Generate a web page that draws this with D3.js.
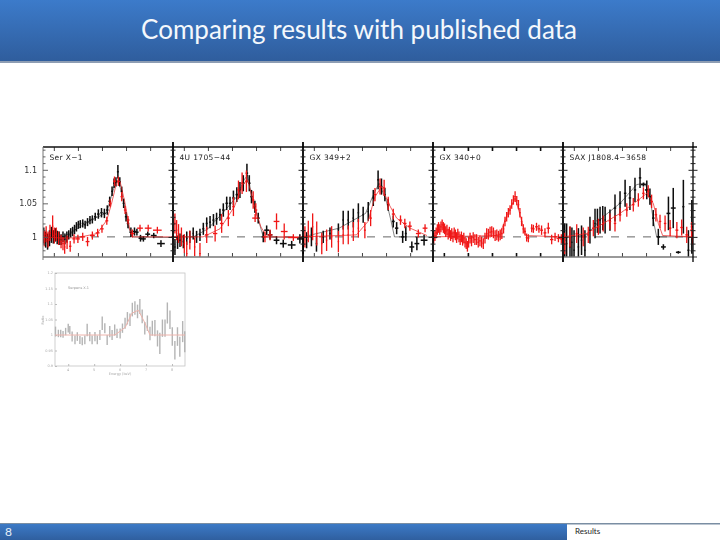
<!DOCTYPE html>
<html>
<head>
<meta charset="utf-8">
<script src="https://cdnjs.cloudflare.com/ajax/libs/d3/7.8.5/d3.min.js"></script>
<style>
html, body { margin: 0; padding: 0; background: #fff; }
svg { display: block; }
</style>
</head>
<body>
<svg id="slide" width="720" height="540"></svg>
<script>
// Each point is [energy keV, ratio, energy half width, ratio half height]
const serBlack = [[3.58,1.002,.03,.012],[3.66,.996,.03,.012],[3.74,.993,.03,.012],[3.82,.998,.03,.012],[3.9,1.003,.03,.012],[3.98,1,.03,.01],[4.06,1.003,.03,.01],[4.14,.999,.03,.01],[4.22,.998,.03,.01],[4.3,.996,.03,.008],[4.38,1,.03,.008],[4.46,.997,.03,.008],[4.54,1,.03,.008],[4.62,1.003,.03,.007],[4.7,1.006,.03,.007],[4.78,1.008,.03,.007],[4.86,1.011,.03,.007],[4.94,1.015,.03,.007],[5.02,1.018,.03,.006],[5.1,1.019,.03,.006],[5.2,1.02,.04,.006],[5.3,1.018,.04,.006],[5.4,1.022,.04,.006],[5.5,1.025,.04,.006],[5.6,1.026,.04,.006],[5.72,1.03,.05,.006],[5.85,1.034,.05,.007],[5.98,1.036,.05,.007],[6.1,1.035,.05,.007],[6.22,1.04,.05,.007],[6.32,1.053,.05,.007],[6.42,1.068,.04,.007],[6.5,1.08,.04,.007],[6.58,1.082,.04,.007],[6.66,1.097,.04,.01],[6.74,1.082,.04,.007],[6.82,1.068,.04,.007],[6.9,1.05,.04,.007],[7,1.03,.05,.007],[7.08,1.02,.05,.007],[7.2,1.007,.06,.007],[7.35,1.008,.07,.006],[7.45,1.007,.07,.005],[7.6,.998,.08,.005],[7.72,.997,.1,.004],[7.9,1.004,.1,.004],[8.15,1.002,.12,.004],[8.45,.99,.16,.005]];
const serRed = [[3.6,.998,.03,.012],[3.68,1.004,.03,.012],[3.76,.996,.03,.012],[3.84,1.006,.03,.012],[3.95,1.016,.03,.016],[4.02,1.002,.03,.012],[4.1,1.004,.03,.01],[4.2,.998,.03,.01],[4.3,.993,.03,.01],[4.38,.99,.03,.01],[4.45,.985,.03,.01],[4.55,.992,.03,.01],[4.68,.986,.05,.008],[4.84,.997,.07,.007],[5,.997,.08,.006],[5.2,1,.1,.006],[5.4,.993,.08,.007],[5.6,1.002,.1,.006],[5.82,1.006,.08,.006],[6,1.012,.07,.006],[6.2,1.024,.06,.006],[6.34,1.05,.05,.006],[6.52,1.083,.06,.007],[6.68,1.083,.06,.007],[6.82,1.06,.05,.007],[6.96,1.04,.05,.006],[7.08,1.025,.06,.006],[7.26,1.005,.08,.006],[7.58,1.013,.12,.005],[7.92,1.013,.14,.005],[8.3,1.01,.18,.005]];
const serBlackModel = [[3.55,1],[4.3,.998],[5,1.013],[5.6,1.026],[6.2,1.036],[6.4,1.062],[6.6,1.085],[6.72,1.08],[6.9,1.05],[7.1,1.015],[7.25,1],[8.95,.999]];
const serRedModel = [[3.55,1],[4.4,.998],[5,.999],[5.8,1.005],[6.2,1.025],[6.4,1.05],[6.6,1.08],[6.75,1.083],[6.96,1.05],[7.16,1.01],[7.3,1],[8.95,1]];

const atollBlack = [[3.63,.985,.03,.012],[3.74,.992,.03,.01],[3.84,.995,.03,.01],[3.98,.993,.03,.01],[4.12,.998,.03,.01],[4.25,1,.03,.009],[4.39,1.005,.03,.009],[4.53,1,.03,.009],[4.67,1.003,.04,.009],[4.81,1.012,.04,.009],[4.95,1.02,.04,.009],[5.09,1.022,.04,.009],[5.23,1.025,.04,.009],[5.36,1.027,.04,.009],[5.5,1.033,.04,.009],[5.64,1.04,.05,.01],[5.78,1.05,.05,.01],[5.92,1.05,.05,.01],[6.06,1.058,.05,.011],[6.2,1.063,.05,.011],[6.33,1.07,.05,.012],[6.47,1.08,.05,.012],[6.62,1.095,.05,.014],[6.72,1.08,.05,.012],[6.81,1.06,.05,.01],[6.95,1.045,.05,.009],[7.09,1.028,.06,.008],[7.3,1,.08,.008],[7.44,1.01,.1,.007],[7.58,1.003,.1,.007],[7.85,.995,.12,.006],[8.13,.99,.14,.006],[8.48,.988,.16,.006],[8.82,.997,.12,.007]];
const atollRed = [[3.63,1.02,.03,.015],[3.7,1.01,.03,.015],[3.78,1.005,.03,.014],[3.9,1,.03,.014],[4.02,.99,.03,.014],[4.12,.975,.03,.018],[4.25,.995,.03,.014],[4.45,.985,.03,.014],[4.67,.975,.03,.016],[4.95,1.003,.07,.012],[5.3,1.005,.09,.012],[5.57,1.02,.07,.014],[5.85,1.028,.06,.012],[6.06,1.045,.05,.014],[6.27,1.07,.05,.014],[6.42,1.08,.05,.016],[6.6,1.083,.05,.016],[6.88,1.055,.05,.013],[6.99,1.04,.06,.01],[6.96,1.028,.12,.006],[7.37,1,.1,.008],[7.58,1.003,.1,.008],[7.85,1.023,.12,.012],[8.17,1.008,.14,.012],[8.55,.999,.22,.005]];
const atollBlackModel = [[3.55,1],[4.4,1],[5,1.012],[5.6,1.035],[6.2,1.06],[6.5,1.085],[6.65,1.092],[6.85,1.055],[7.1,1.025],[7.3,1],[8.95,.999]];
const atollRedModel = [[3.55,1],[4.8,1],[5.5,1.012],[6.1,1.045],[6.45,1.078],[6.65,1.085],[6.9,1.05],[7.2,1.015],[7.45,1],[8.95,1]];

const gx349Black = [[3.56,.986,.03,.012],[3.7,.995,.03,.012],[3.9,1,.03,.014],[4.11,.99,.03,.012],[4.39,1,.03,.009],[4.67,1.005,.03,.009],[5.02,1.011,.03,.009],[5.22,1.025,.03,.014],[5.43,1.025,.03,.014],[5.64,1.028,.03,.014],[5.85,1.036,.03,.014],[6.05,1.033,.03,.012],[6.26,1.038,.03,.014],[6.47,1.058,.04,.012],[6.67,1.085,.04,.014],[6.81,1.075,.04,.012],[6.95,1.063,.04,.01],[7.09,1.048,.05,.009],[7.3,1.023,.06,.009],[7.44,1.013,.07,.009],[7.69,1,.06,.009],[7.82,1.005,.04,.011],[8.07,.985,.1,.008],[8.28,.99,.1,.01],[8.58,.995,.14,.008]];
const gx349Red = [[3.63,1,.03,.016],[3.77,1.008,.03,.016],[3.95,1.015,.03,.02],[4.12,1.005,.03,.018],[4.33,.99,.03,.016],[4.53,.995,.03,.016],[4.74,1,.03,.016],[5.02,.993,.03,.016],[5.22,1.003,.03,.014],[5.43,1.003,.03,.014],[5.64,1.008,.03,.014],[5.85,1.013,.03,.014],[6.12,1.01,.04,.012],[6.36,1.028,.05,.012],[6.54,1.063,.05,.01],[6.75,1.075,.05,.012],[6.92,1.073,.05,.012],[7.09,1.05,.05,.01],[7.3,1.034,.06,.008],[7.6,1.025,.07,.007],[7.78,1.02,.07,.007],[7.99,1.016,.08,.007],[8.34,1.005,.1,.006],[8.62,1.013,.1,.006]];
const gx349BlackModel = [[3.55,1],[5.05,1.013],[6.15,1.035],[6.5,1.065],[6.71,1.08],[7,1.055],[7.2,1.025],[7.35,1],[8.95,1]];
const gx349RedModel = [[3.55,1],[5.77,1.003],[6.25,1.023],[6.54,1.06],[6.82,1.075],[7.1,1.05],[7.44,1.028],[8,1.013],[8.7,1.002]];

const gx340Red = [[3.58,.998,.025,.008],[3.63,1.002,.025,.008],[3.68,1.006,.025,.008],[3.73,1.011,.025,.008],[3.78,1.014,.025,.008],[3.83,1.011,.025,.008],[3.88,1.015,.025,.008],[3.93,1.018,.025,.008],[3.98,1.014,.025,.008],[4.03,1.012,.025,.008],[4.08,1.008,.025,.008],[4.13,1.01,.025,.008],[4.18,1.004,.025,.008],[4.23,1.007,.025,.008],[4.28,1.002,.025,.008],[4.33,1.005,.025,.008],[4.38,1,.025,.008],[4.43,1.006,.025,.008],[4.48,1.003,.025,.008],[4.53,.999,.025,.008],[4.58,1.004,.025,.008],[4.63,1,.025,.008],[4.68,.996,.025,.008],[4.73,1,.025,.008],[4.78,.995,.025,.008],[4.83,.998,.025,.008],[4.88,.992,.025,.008],[4.93,.99,.025,.008],[4.98,.986,.025,.008],[5.03,.992,.025,.008],[5.09,.998,.03,.008],[5.15,.994,.03,.008],[5.22,.999,.03,.008],[5.29,.996,.03,.008],[5.36,.996,.03,.008],[5.43,.992,.03,.008],[5.5,.994,.03,.008],[5.57,.992,.03,.008],[5.64,.99,.03,.008],[5.71,.998,.03,.008],[5.78,1.005,.03,.008],[5.85,1.004,.03,.008],[5.92,1.007,.03,.008],[5.99,1.008,.03,.008],[6.06,1.006,.03,.008],[6.13,1.002,.03,.008],[6.2,1.003,.03,.008],[6.27,1.001,.03,.008],[6.34,1.003,.03,.008],[6.41,1.005,.03,.008],[6.48,1.012,.03,.007],[6.54,1.023,.03,.007],[6.61,1.03,.03,.007],[6.68,1.036,.03,.007],[6.75,1.04,.03,.007],[6.82,1.049,.03,.007],[6.89,1.055,.03,.007],[6.96,1.06,.03,.008],[7.03,1.054,.03,.007],[7.1,1.048,.03,.007],[7.16,1.036,.03,.007],[7.23,1.023,.03,.007],[7.3,1.012,.03,.007],[7.37,1.008,.04,.006],[7.44,.999,.04,.006],[7.51,.998,.04,.006],[7.65,1.013,.04,.006],[7.72,1.012,.05,.006],[7.85,1.015,.06,.006],[7.95,1.012,.06,.006],[8.06,1.01,.06,.007],[8.2,1.006,.06,.007],[8.34,1.013,.07,.008],[8.48,.996,.07,.007],[8.62,1,.08,.006],[8.76,.998,.08,.006],[8.88,.997,.06,.007]];
const gx340RedModel = [[3.55,1],[6.3,1.002],[6.6,1.03],[6.96,1.058],[7.15,1.035],[7.4,1.002],[8.95,1]];

const saxBlack = [[3.62,.995,.03,.025],[3.7,.99,.03,.03],[3.84,.985,.03,.03],[3.92,.992,.03,.022],[4.01,.98,.03,.03],[4.19,.985,.03,.028],[4.32,.995,.03,.022],[4.46,.98,.03,.03],[4.67,1.01,.03,.02],[4.88,1.02,.03,.022],[4.98,1.024,.03,.018],[5.09,1.025,.03,.02],[5.2,1.028,.03,.018],[5.3,1.025,.03,.02],[5.5,1.025,.04,.016],[5.71,1.043,.05,.02],[5.92,1.05,.05,.018],[6.13,1.065,.05,.02],[6.33,1.058,.05,.018],[6.54,1.07,.05,.018],[6.75,1.088,.05,.015],[6.89,1.078,.1,.003],[7.03,1.07,.08,.014],[7.16,1.06,.06,.012],[7.3,1.028,.05,.012],[7.51,1,.07,.012],[7.72,.985,.1,.004],[7.93,1.035,.08,.025],[8.13,1.043,.1,.03],[8.34,.977,.1,.002],[8.55,1.045,.04,.04],[8.76,.98,.04,.03],[8.9,1.015,.04,.04]];
const saxRed = [[3.62,.99,.03,.016],[3.84,1,.04,.016],[4.12,1.005,.05,.014],[4.39,1,.04,.014],[4.6,1.003,.05,.012],[4.81,1.013,.05,.012],[5.02,1.015,.05,.012],[5.22,1.02,.05,.012],[5.5,1.023,.05,.012],[5.71,1.02,.05,.012],[5.92,1.033,.05,.01],[6.2,1.04,.05,.01],[6.47,1.048,.05,.01],[6.68,1.055,.05,.01],[6.89,1.065,.05,.009],[7.09,1.068,.05,.009],[7.23,1.053,.05,.01],[7.41,1.033,.05,.01],[7.58,1.023,.05,.01],[7.79,1.02,.05,.012],[8,1.013,.05,.012],[8.28,1.01,.06,.012],[8.48,1.014,.06,.012],[8.69,1.003,.06,.012],[8.89,1.01,.05,.012],[8.94,.998,.01,.01]];
const saxBlackModel = [[3.55,.998],[4.53,1.003],[5.22,1.03],[5.92,1.05],[6.61,1.078],[6.96,1.08],[7.16,1.06],[7.3,1.025],[7.44,1],[8.95,1]];
const saxRedModel = [[3.55,1],[4.53,1.005],[5.22,1.02],[5.92,1.035],[6.61,1.053],[7.03,1.065],[7.3,1.05],[7.51,1.02],[7.69,1.002],[8.95,1]];

const panelNames = ['Ser X\u22121', '4U 1705\u221244', 'GX 349+2', 'GX 340+0', 'SAX J1808.4\u22123658'];
const ratioLabels = [[1.1, '1.1'], [1.05, '1.05'], [1, '1']];
const energyTicks = [4, 5, 6, 7, 8];
const ratioMajor = [1, 1.05, 1.1];
const ratioMinor = [.98, .99, 1.01, 1.02, 1.03, 1.04, 1.06, 1.07, 1.08, 1.09, 1.11, 1.12, 1.13];

// lower plot, pasted in small and washed out on the slide
const insetEnergy = [3.51,3.62,3.71,3.8,3.9,4,4.06,4.15,4.26,4.35,4.45,4.54,4.64,4.73,4.83,4.92,5.03,5.12,5.22,5.31,5.41,5.5,5.6,5.69,5.79,5.88,6,6.09,6.19,6.28,6.38,6.47,6.57,6.67,6.76,6.85,6.95,7.05,7.15,7.24,7.34,7.44,7.53,7.63,7.73,7.82,7.92,8.01,8.11,8.21,8.3,8.41,8.49];
const insetRatio = [1.011,1.005,1.005,1.002,1.011,1.022,1.016,.995,.984,.995,.984,.98,.984,1.016,.995,.984,.995,.984,1,1.038,1.022,.984,1.011,1,1.016,1.005,1.005,1.022,1.038,1.054,1.049,1.082,1.087,1.076,1.092,1.06,1.022,1.038,1.005,1.022,1.022,.989,.973,1.022,1.022,1.071,1.049,.995,.951,.995,.962,1.011,.978];
const insetErr = [.016,.012,.012,.011,.012,.014,.013,.016,.014,.014,.013,.013,.014,.02,.015,.014,.015,.014,.016,.022,.016,.016,.018,.016,.018,.015,.016,.015,.018,.02,.02,.022,.022,.022,.024,.022,.02,.025,.022,.024,.026,.026,.034,.028,.028,.034,.03,.03,.03,.03,.032,.034,.034];
const insetModelEnergy = [3.5,5.8,6.2,6.45,6.7,6.95,7.15,8.5];
const insetModelRatio = [1,1,1.025,1.07,1.08,1.04,1,1];
const insetRatioTicks = [.9, .95, 1, 1.05, 1.1, 1.15, 1.2];

const svg = d3.select('#slide');
const defs = svg.append('defs');

const grad = (id, top, bottom) => {
    const g = defs.append('linearGradient').attr('id', id).attr('x1', 0).attr('x2', 0).attr('y1', 0).attr('y2', 1);
    g.append('stop').attr('offset', '0%').attr('stop-color', top);
    g.append('stop').attr('offset', '100%').attr('stop-color', bottom);
};
grad('headFill', '#3c7bca', '#2f5d9d');
grad('footFill', '#3c7ac6', '#2f5f9f');
defs.append('filter').attr('id', 'soft').append('feGaussianBlur').attr('stdDeviation', 0.35);
defs.append('filter').attr('id', 'softer').append('feGaussianBlur').attr('stdDeviation', 0.55);

// slide furniture
svg.append('rect').attr('width', 720).attr('height', 61).attr('fill', 'url(#headFill)');
svg.append('rect').attr('y', 61).attr('width', 720).attr('height', 2).attr('fill', '#8d9db3');
svg.append('text').attr('x', 359).attr('y', 39).attr('text-anchor', 'middle')
    .attr('font-family', 'Lato').attr('font-size', 26).attr('fill', '#f4f8fc')
    .text('Comparing results with published data');

svg.append('rect').attr('y', 523).attr('width', 720).attr('height', 1.5).attr('fill', '#7a8ea3');
svg.append('rect').attr('y', 524).attr('width', 567).attr('height', 16).attr('fill', 'url(#footFill)');
svg.append('text').attr('x', 5).attr('y', 536).attr('font-family', 'Lato').attr('font-size', 12)
    .attr('fill', '#e8f0f8').text('8');
svg.append('text').attr('x', 575).attr('y', 534).attr('font-family', 'Lato').attr('font-size', 8)
    .attr('fill', '#222').text('Results');

// top row of five panels
const panelWidth = 130;
const left = 43;
const yTop = 147;
const yBottom = 257;
const y = d3.scaleLinear().domain([.97, 1.134]).range([yBottom, yTop]);
const panelData = [
    { black: serBlack, red: serRed, blackModel: serBlackModel, redModel: serRedModel },
    { black: atollBlack, red: atollRed, blackModel: atollBlackModel, redModel: atollRedModel },
    { black: gx349Black, red: gx349Red, blackModel: gx349BlackModel, redModel: gx349RedModel },
    { black: [], red: gx340Red, blackModel: [], redModel: gx340RedModel },
    { black: saxBlack, red: saxRed, blackModel: saxBlackModel, redModel: saxRedModel }
];

const strip = svg.append('g').attr('filter', 'url(#soft)');
defs.append('clipPath').attr('id', 'stripClip').append('rect')
    .attr('x', left).attr('y', yTop).attr('width', panelWidth * 5).attr('height', yBottom - yTop);

const crosses = (g, x, points, color, width) => {
    const c = g.selectAll(null).data(points).enter().append('g')
        .attr('stroke', color).attr('stroke-width', width);
    c.append('line')
        .attr('x1', d => x(d[0] - d[2])).attr('x2', d => x(d[0] + d[2]))
        .attr('y1', d => y(d[1])).attr('y2', d => y(d[1]));
    c.append('line')
        .attr('x1', d => x(d[0])).attr('x2', d => x(d[0]))
        .attr('y1', d => y(d[1] - d[3])).attr('y2', d => y(d[1] + d[3]));
};

panelData.forEach((p, i) => {
    const x = d3.scaleLinear().domain([3.55, 8.95])
        .range([left + i * panelWidth, left + (i + 1) * panelWidth]);
    const line = d3.line().x(d => x(d[0])).y(d => y(d[1]));

    const plot = strip.append('g').attr('clip-path', 'url(#stripClip)');
    plot.append('line').attr('x1', x.range()[0]).attr('x2', x.range()[1])
        .attr('y1', y(1)).attr('y2', y(1))
        .attr('stroke', '#555').attr('stroke-width', 0.9).attr('stroke-dasharray', '8 8');
    if (p.blackModel.length) {
        plot.append('path').attr('d', line(p.blackModel)).attr('fill', 'none')
            .attr('stroke', '#333').attr('stroke-width', 0.6);
    }
    crosses(plot, x, p.black, '#0a0a0a', 1.5);
    plot.append('path').attr('d', line(p.redModel)).attr('fill', 'none')
        .attr('stroke', '#e82020').attr('stroke-width', 0.7);
    crosses(plot, x, p.red, '#f01414', 1.3);

    strip.append('g').attr('transform', `translate(0,${yTop})`)
        .call(d3.axisBottom(x).tickValues(energyTicks).tickSize(4).tickFormat(''))
        .call(g => g.select('.domain').remove())
        .selectAll('line').attr('stroke', i === 3 ? '#111' : '#444').attr('stroke-width', i === 3 ? 1.6 : 1);
    strip.append('g').attr('transform', `translate(0,${yBottom})`)
        .call(d3.axisTop(x).tickValues(energyTicks).tickSize(4).tickFormat(''))
        .call(g => g.select('.domain').remove())
        .selectAll('line').attr('stroke', i === 3 ? '#111' : '#444').attr('stroke-width', i === 3 ? 1.6 : 1);

    strip.append('text').attr('x', x.range()[0] + 6.5).attr('y', 160)
        .attr('font-family', 'DejaVu Sans').attr('font-size', 7.5).attr('letter-spacing', 0.35)
        .attr('fill', '#222').text(panelNames[i]);
});

// frame lines, then the shared y axes on every divider
strip.append('line').attr('x1', left).attr('x2', 697).attr('y1', yTop).attr('y2', yTop)
    .attr('stroke', '#111').attr('stroke-width', 1.6);
strip.append('line').attr('x1', left).attr('x2', 697).attr('y1', yBottom).attr('y2', yBottom)
    .attr('stroke', '#777').attr('stroke-width', 1.3);
strip.append('line').attr('x1', left).attr('x2', left).attr('y1', yTop).attr('y2', 260)
    .attr('stroke', '#777').attr('stroke-width', 1);

d3.range(1, 6).forEach(i => {
    const xPos = left + i * panelWidth;
    strip.append('line').attr('x1', xPos).attr('x2', xPos).attr('y1', 142).attr('y2', 262)
        .attr('stroke', '#000').attr('stroke-width', i === 5 ? 1.3 : 1.8);
    [[ratioMajor, 4.5], [ratioMinor, 2.5]].forEach(([values, half]) => {
        strip.append('g').attr('transform', `translate(${xPos},0)`)
            .call(d3.axisLeft(y).tickValues(values).tickFormat(''))
            .call(g => g.select('.domain').remove())
            .selectAll('line').attr('x1', -half).attr('x2', half)
            .attr('stroke', '#222').attr('stroke-width', 1);
    });
});
[[ratioMajor, 5], [ratioMinor, 2.5]].forEach(([values, len]) => {
    strip.append('g').attr('transform', `translate(${left},0)`)
        .call(d3.axisRight(y).tickValues(values).tickSize(len).tickFormat(''))
        .call(g => g.select('.domain').remove())
        .selectAll('line').attr('stroke', '#555').attr('stroke-width', 0.9);
});

strip.selectAll(null).data(ratioLabels).enter().append('text')
    .attr('x', 37).attr('y', d => y(d[0]) + 3).attr('text-anchor', 'end')
    .attr('font-family', 'DejaVu Sans').attr('font-size', 8).attr('fill', '#333')
    .text(d => d[1]);

// the small washed out plot below
const inset = svg.append('g').attr('filter', 'url(#softer)');
const ix = d3.scaleLinear().domain([3.49, 8.5]).range([55, 185]);
const iy = d3.scaleLinear().domain([.9, 1.2]).range([366, 273]);
inset.append('rect').attr('x', 55).attr('y', 273).attr('width', 130).attr('height', 93)
    .attr('fill', 'none').attr('stroke', '#c4c4c4').attr('stroke-width', 0.8);
inset.append('g').attr('transform', 'translate(0,366)')
    .call(d3.axisTop(ix).tickValues(energyTicks).tickSize(2).tickFormat(''))
    .call(g => g.select('.domain').remove())
    .selectAll('line').attr('stroke', '#bbb');
inset.append('g').attr('transform', 'translate(55,0)')
    .call(d3.axisRight(iy).tickValues(insetRatioTicks).tickSize(2).tickFormat(''))
    .call(g => g.select('.domain').remove())
    .selectAll('line').attr('stroke', '#bbb');
inset.selectAll(null).data(insetRatio).enter().append('line')
    .attr('x1', (d, i) => ix(insetEnergy[i])).attr('x2', (d, i) => ix(insetEnergy[i]))
    .attr('y1', (d, i) => iy(d - insetErr[i])).attr('y2', (d, i) => iy(d + insetErr[i]))
    .attr('stroke', '#b4b4b4').attr('stroke-width', 1.4);
inset.append('path')
    .attr('d', d3.line().x((d, i) => ix(insetModelEnergy[i])).y(d => iy(d))(insetModelRatio))
    .attr('fill', 'none').attr('stroke', '#eeb4ac').attr('stroke-width', 1);
inset.selectAll(null).data(energyTicks).enter().append('text')
    .attr('x', d => ix(d)).attr('y', 371).attr('text-anchor', 'middle')
    .attr('font-family', 'DejaVu Sans').attr('font-size', 3.5).attr('fill', '#aaa').text(d => d);
inset.selectAll(null).data(insetRatioTicks).enter().append('text')
    .attr('x', 53).attr('y', d => iy(d) + 1).attr('text-anchor', 'end')
    .attr('font-family', 'DejaVu Sans').attr('font-size', 3.5).attr('fill', '#aaa').text(d => d);
inset.append('text').attr('x', 68).attr('y', 289).attr('font-family', 'DejaVu Sans')
    .attr('font-size', 3.5).attr('fill', '#999').text('Serpens X-1');
inset.append('text').attr('x', 120).attr('y', 375).attr('text-anchor', 'middle').attr('font-family', 'DejaVu Sans')
    .attr('font-size', 3.5).attr('fill', '#aaa').text('Energy (keV)');
inset.append('text').attr('transform', 'translate(44,320) rotate(-90)').attr('text-anchor', 'middle')
    .attr('font-family', 'DejaVu Sans').attr('font-size', 3.5).attr('fill', '#aaa').text('Ratio');
</script>
</body>
</html>
